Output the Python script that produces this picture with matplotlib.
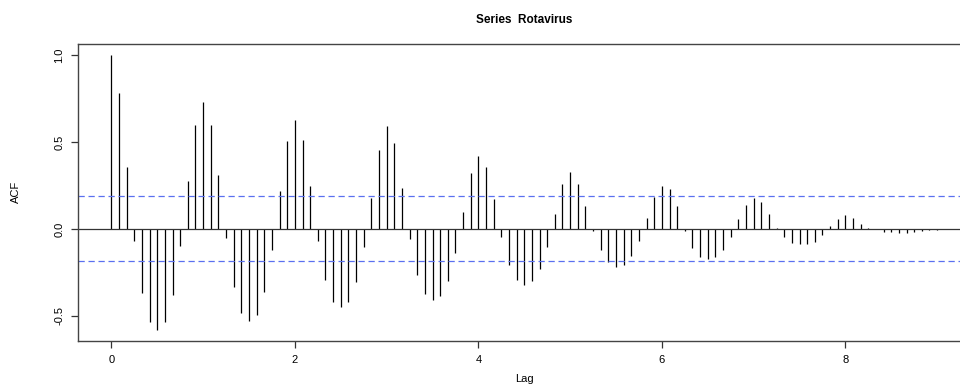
import matplotlib.pyplot as plt
import numpy as np

# ACF of the monthly Rotavirus series, lags in years (12 per year)
acf_values = [
    1.000, 0.784, 0.358, -0.067, -0.370, -0.533, -0.579, -0.536, -0.377, -0.096, 0.276, 0.596,
    0.730, 0.598, 0.308, -0.050, -0.331, -0.485, -0.529, -0.496, -0.364, -0.121, 0.218, 0.506,
    0.625, 0.513, 0.247, -0.067, -0.293, -0.418, -0.450, -0.420, -0.307, -0.102, 0.178, 0.452,
    0.592, 0.496, 0.236, -0.057, -0.266, -0.374, -0.408, -0.385, -0.297, -0.136, 0.100, 0.322,
    0.420, 0.356, 0.172, -0.048, -0.205, -0.293, -0.324, -0.301, -0.230, -0.102, 0.086, 0.261,
    0.328, 0.261, 0.132, -0.010, -0.119, -0.190, -0.216, -0.205, -0.155, -0.067, 0.061, 0.182,
    0.249, 0.230, 0.134, -0.010, -0.107, -0.161, -0.172, -0.161, -0.121, -0.046, 0.056, 0.140,
    0.180, 0.155, 0.088, 0.008, -0.046, -0.079, -0.088, -0.084, -0.073, -0.036, 0.015, 0.057,
    0.080, 0.061, 0.029, 0.008, -0.002, -0.015, -0.017, -0.021, -0.021, -0.015, -0.010, -0.006,
    -0.006,
]
frequency = 12
conf_limit = 0.187
x_ticks = [0, 2, 4, 6, 8]
y_ticks = [-0.5, 0.0, 0.5, 1.0]
y_tick_labels = ['-0.5', '0.0', '0.5', '1.0']
series_name = 'Rotavirus'


def plotACF():
    plt.rcParams['font.family'] = ['Liberation Sans', 'DejaVu Sans']
    acf = np.array(acf_values)
    lags = np.arange(len(acf)) / frequency

    fig = plt.figure(figsize=(9.6, 3.91), dpi=100)
    ax = fig.add_axes([0.0816, 0.1287, 0.929, 0.7588])

    ax.vlines(lags, 0, acf, colors='black', linewidth=0.9)
    ax.axhline(0, color='#333333', linewidth=0.9)
    ax.axhline(conf_limit, color='#5a70f0', linewidth=0.9, linestyle=(0, (5, 3)))
    ax.axhline(-conf_limit, color='#5a70f0', linewidth=0.9, linestyle=(0, (5, 3)))

    # R-style 4% padding round the data range
    xr = lags[-1] - lags[0]
    ax.set_xlim(lags[0] - 0.04 * xr, lags[-1] + 0.04 * xr)
    ylo = min(acf.min(), -conf_limit)
    yr = 1 - ylo
    ax.set_ylim(ylo - 0.04 * yr, 1 + 0.04 * yr)

    ax.set_xticks(x_ticks)
    ax.set_xticklabels([str(t) for t in x_ticks], fontsize=8)
    ax.set_yticks(y_ticks)
    ax.set_yticklabels(y_tick_labels, fontsize=8, rotation=90, va='center')
    ax.tick_params(direction='out', length=5, width=0.9, color='#333333', pad=5)

    for s in ax.spines.values():
        s.set_color('#444444')
        s.set_linewidth(1.0)

    ax.set_xlabel('Lag', fontsize=8, labelpad=7)
    ax.set_ylabel('ACF', fontsize=8, labelpad=24)
    ax.set_title('Series  ' + series_name, fontsize=8.5, fontweight='bold', pad=15)

    fig.savefig('out.png', dpi=100)


if __name__ == "__main__":
    plotACF()
